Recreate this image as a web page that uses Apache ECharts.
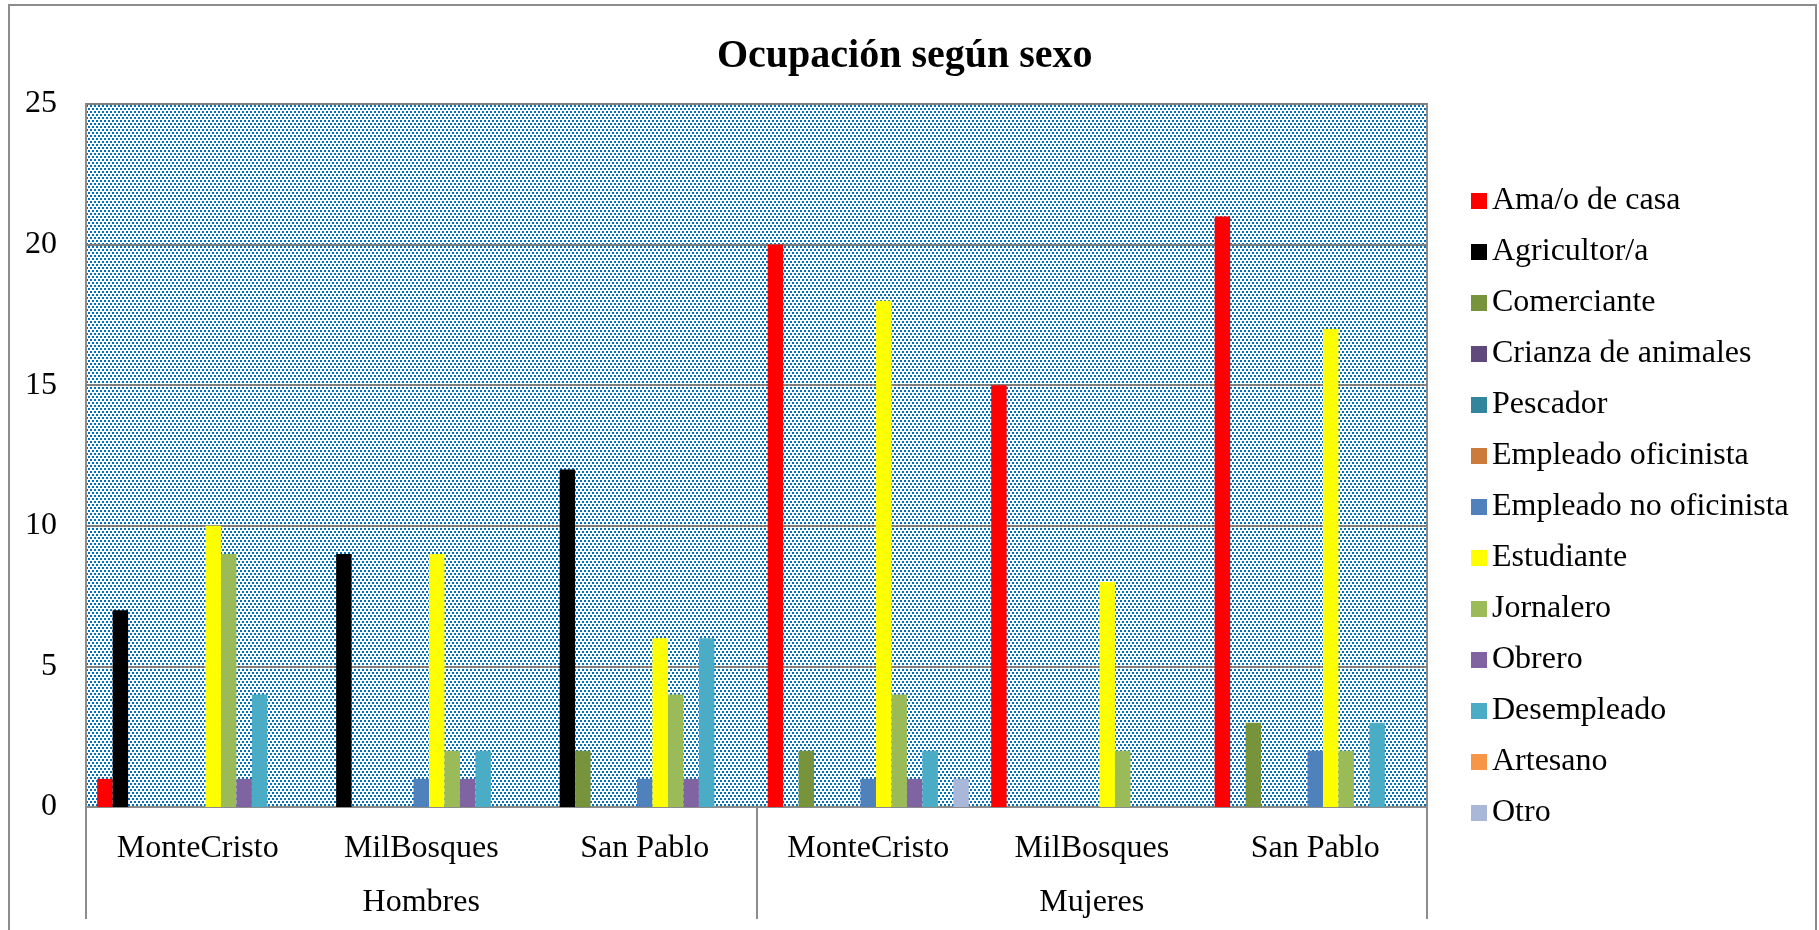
<!DOCTYPE html>
<html>
<head>
<meta charset="utf-8">
<title>Ocupación según sexo</title>
<script src="https://cdn.jsdelivr.net/npm/echarts@6/dist/echarts.min.js"></script>
<style>
html, body { margin: 0; padding: 0; background: #fff; }
#main { width: 1819px; height: 930px; }
</style>
</head>
<body>
<div id="main"></div>
<script>
var lugares = ['MonteCristo', 'MilBosques', 'San Pablo', 'MonteCristo', 'MilBosques', 'San Pablo'];
var sexos = ['Hombres', 'Mujeres'];
var yTicks = [0, 5, 10, 15, 20, 25];

var nombres = ['Ama/o de casa', 'Agricultor/a', 'Comerciante', 'Crianza de animales', 'Pescador',
	'Empleado oficinista', 'Empleado no oficinista', 'Estudiante', 'Jornalero', 'Obrero',
	'Desempleado', 'Artesano', 'Otro'];

var amaDeCasa      = [1, 0, 0, 20, 15, 21];
var agricultor     = [7, 9, 12, 0, 0, 0];
var comerciante    = [0, 0, 2, 2, 0, 3];
var crianza        = [0, 0, 0, 0, 0, 0];
var pescador       = [0, 0, 0, 0, 0, 0];
var empOficinista  = [0, 0, 0, 0, 0, 0];
var empNoOficinista= [0, 1, 1, 1, 0, 2];
var estudiante     = [10, 9, 6, 18, 8, 17];
var jornalero      = [9, 2, 4, 4, 2, 2];
var obrero         = [1, 1, 1, 1, 0, 0];
var desempleado    = [4, 2, 6, 2, 0, 3];
var artesano       = [0, 0, 0, 0, 0, 0];
var otro           = [0, 0, 0, 1, 0, 0];

var valores = [amaDeCasa, agricultor, comerciante, crianza, pescador, empOficinista,
	empNoOficinista, estudiante, jornalero, obrero, desempleado, artesano, otro];
var colores = ['#FF0000', '#000000', '#77933C', '#604A7B', '#31859C', '#CD7B3C',
	'#4F81BD', '#FFFF00', '#9BBB59', '#8064A2', '#4BACC6', '#F79646', '#A9B8D8'];

var fuente = 'Liberation Serif, Times New Roman, serif';
var gris = '#8c8c8c';

// fondo punteado del area de trazado
function patronPuntos() {
	var c = document.createElement('canvas');
	c.width = 4;
	c.height = 6;
	var ctx = c.getContext('2d');
	ctx.fillStyle = '#ffffff';
	ctx.fillRect(0, 0, 4, 6);
	ctx.fillStyle = '#0070C0';
	ctx.fillRect(0, 0, 2, 2);
	ctx.fillRect(2, 3, 2, 2);
	return c;
}

var chart = echarts.init(document.getElementById('main'), null, { renderer: 'canvas' });

var series = [];
for (var i = 0; i < nombres.length; i++) {
	series.push({
		name: nombres[i],
		type: 'bar',
		data: valores[i],
		barGap: '0%',
		barCategoryGap: '10%',
		itemStyle: { color: colores[i] },
		xAxisIndex: 0
	});
}

var option = {
	animation: false,
	backgroundColor: '#ffffff',
	title: {
		text: 'Ocupación según sexo',
		left: 712,
		top: 32,
		textStyle: { fontFamily: fuente, fontSize: 40, fontWeight: 'bold', color: '#000' }
	},
	graphic: [{
		type: 'rect',
		silent: true,
		shape: { x: 9, y: 5, width: 1807, height: 980 },
		style: { fill: 'none', stroke: gris, lineWidth: 2 }
	}],
	legend: {
		orient: 'vertical',
		left: 1471,
		top: 185,
		padding: 0,
		itemWidth: 16,
		itemHeight: 16,
		itemGap: 19,
		icon: 'rect',
		data: nombres,
		textStyle: { fontFamily: fuente, fontSize: 32, color: '#000', lineHeight: 32 }
	},
	grid: {
		left: 86,
		right: 392,
		top: 104,
		bottom: 123,
		show: true,
		backgroundColor: { image: patronPuntos(), repeat: 'repeat' },
		borderColor: gris,
		borderWidth: 2
	},
	xAxis: [{
		type: 'category',
		data: lugares,
		axisLine: { show: true, lineStyle: { color: gris, width: 2 } },
		axisTick: { show: false },
		axisLabel: { margin: 26, fontFamily: fuente, fontSize: 32, color: '#000' }
	}, {
		type: 'category',
		data: sexos,
		position: 'bottom',
		axisLine: { show: false },
		axisTick: { show: true, length: 112, lineStyle: { color: gris, width: 2 } },
		axisLabel: { margin: 80, fontFamily: fuente, fontSize: 32, color: '#000' }
	}],
	yAxis: {
		type: 'value',
		min: yTicks[0],
		max: yTicks[yTicks.length - 1],
		interval: yTicks[1] - yTicks[0],
		axisLine: { show: false },
		axisTick: { show: false },
		axisLabel: { margin: 29, fontFamily: fuente, fontSize: 32, color: '#000' },
		splitLine: { show: true, lineStyle: { color: '#7f7f7f', width: 2 } }
	},
	series: series
};

chart.setOption(option);
</script>
</body>
</html>
